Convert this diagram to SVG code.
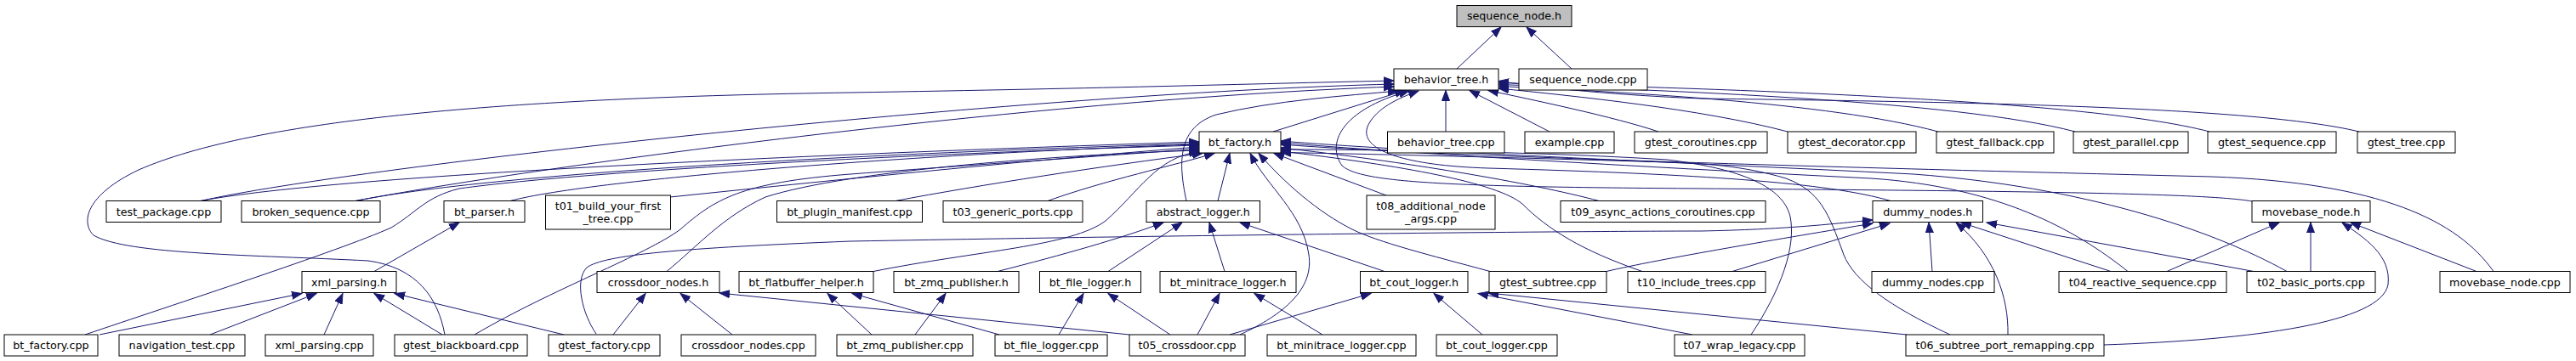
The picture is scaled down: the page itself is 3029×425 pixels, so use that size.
<svg xmlns="http://www.w3.org/2000/svg" width="3029" height="425" viewBox="0 0 3029 425">
<style>
.n rect{fill:#fff;stroke:#000;stroke-width:1}
.n.root rect{fill:#bfbfbf}
.n text{font-family:"DejaVu Sans","Liberation Sans",sans-serif;font-size:12.7px;text-anchor:middle;fill:#000}
#edges path{fill:none;stroke:#191970;stroke-width:1}
</style>
<defs>
<marker id="ah" markerUnits="userSpaceOnUse" markerWidth="14" markerHeight="11" refX="12" refY="5" orient="auto">
<path d="M0,0.5 L12,5 L0,9.5 z" fill="#191970" stroke="#191970" stroke-width="1"/>
</marker>
</defs>
<rect x="0" y="0" width="3029" height="425" fill="#fff"/>
<g id="edges" marker-end="url(#ah)">
<path d="M1713,81 L1765,32"/>
<path d="M1848,81 L1795,32"/>
<path d="M1497,155 L1652,106.5"/>
<path d="M1700,155 L1700,106.5"/>
<path d="M1822,155 L1728,106.5"/>
<path d="M1950,155 C1900,138 1800,117 1750,106.5"/>
<path d="M2102,155 C2000,128 1850,113 1762,104"/>
<path d="M2279,155 C2150,120 1900,108 1762,101.5"/>
<path d="M2440,155 C2300,118 1950,106 1762,99.5"/>
<path d="M2598,155 C2450,116 2000,104 1762,97.5"/>
<path d="M2774,155 C2650,125 2300,120 2000,116 C1900,112 1820,104 1762,95.5"/>
<path d="M236,236.5 C420,195 1200,110 1639,99"/>
<path d="M418,236.5 C620,198 1200,118 1639,102"/>
<path d="M523,394 C515,350 490,315 433,307 C300,300 150,300 110,277 C95,262 100,230 163,200 C300,140 600,115 1000,109 C1300,104 1500,98 1639,95"/>
<path d="M1395,236.5 C1385,190 1385,150 1430,135 C1500,118 1580,113 1644,107"/>
<path d="M2223,236.5 C2150,215 2000,205 1750,198 C1630,194 1595,170 1610,145 C1620,128 1640,117 1668,107"/>
<path d="M2648,237 C2600,228 2400,225 2000,222 C1700,220 1600,215 1578,195 C1560,170 1575,130 1657,107"/>
<path d="M236,236.5 C400,205 1000,180 1410,167"/>
<path d="M418,236.5 C600,200 1100,178 1410,169"/>
<path d="M100,394 C200,360 400,295 460,268 C490,250 500,232 540,222 C700,200 1100,180 1410,171"/>
<path d="M558,394 C650,340 760,300 800,270 C840,235 870,215 1000,205 C1200,190 1350,180 1410,175"/>
<path d="M788,232 C1000,210 1250,185 1410,173"/>
<path d="M600,236.5 C700,210 1100,180 1410,170"/>
<path d="M784,319.5 C820,290 850,255 900,232 C1000,200 1250,182 1410,177"/>
<path d="M1053,236.5 C1150,218 1300,195 1414,180.5"/>
<path d="M1232,236.5 C1300,212 1380,195 1428,180.5"/>
<path d="M1027,319.5 C1150,295 1260,290 1300,260 C1340,225 1360,185 1410,178.5"/>
<path d="M1432,236.5 L1446,180.5"/>
<path d="M1458,394 C1510,370 1545,340 1539,300 C1532,250 1490,220 1470,180.5"/>
<path d="M1752,319.5 C1680,300 1620,285 1590,270 C1550,250 1510,215 1480,180.5"/>
<path d="M1630,230 L1498,180.5"/>
<path d="M1880,236.5 C1800,215 1650,190 1506,174"/>
<path d="M1931,319.5 C1860,295 1820,270 1790,240 C1760,215 1650,195 1506,178"/>
<path d="M2932,319.5 C2890,260 2800,215 2600,208 C2200,198 1700,185 1506,170"/>
<path d="M2502,319.5 C2440,270 2350,220 2200,210 C1900,195 1650,180 1506,168"/>
<path d="M2689,319.5 C2600,270 2450,220 2250,205 C1950,190 1650,178 1506,166"/>
<path d="M2059,394 C2095,340 2112,290 2105,255 C2098,225 2060,200 1960,188 C1800,178 1600,176 1506,176"/>
<path d="M2293,394 C2220,360 2180,330 2168,300 C2150,250 2140,225 2100,210 C2050,195 2000,192 1960,191 C1800,186 1600,181 1506,179.5"/>
<path d="M1173,319.5 C1250,300 1320,280 1368,262"/>
<path d="M1303,319.5 L1390,262"/>
<path d="M1440,319.5 L1422,262"/>
<path d="M1628,319.5 L1458,262"/>
<path d="M440,319.5 L540,262"/>
<path d="M117,394 L355,345.5"/>
<path d="M247,394 L372,345.5"/>
<path d="M381,394 L403,345.5"/>
<path d="M520,394 L440,345.5"/>
<path d="M663,394 L464,345.5"/>
<path d="M721,394 L759,345.5"/>
<path d="M861,394 L800,345.5"/>
<path d="M1328,394 L846,345"/>
<path d="M1025,394 L973,345.5"/>
<path d="M1175,394 L1002,345.5"/>
<path d="M1076,394 L1112,345.5"/>
<path d="M1245,394 L1274,345.5"/>
<path d="M1376,394 L1303,345.5"/>
<path d="M1408,394 L1434,345.5"/>
<path d="M1555,394 L1475,345.5"/>
<path d="M1446,394 L1612,345.5"/>
<path d="M1743,394 L1686,345.5"/>
<path d="M1990,394 L1738,345.5"/>
<path d="M2242,394 L1750,345"/>
<path d="M701,393 C685,370 675,330 690,315 C710,300 800,292 1000,284 C1500,275 1900,272 2000,272 C2100,270 2150,264 2202,259"/>
<path d="M1889,319.5 C1950,305 2100,280 2202,263"/>
<path d="M2037,319.5 L2222,263"/>
<path d="M2272,319.5 L2268,262"/>
<path d="M2482,319.5 L2306,262"/>
<path d="M2361,394 C2362,350 2345,300 2300,262"/>
<path d="M2650,319.5 L2336,262"/>
<path d="M2548,319.5 L2680,262"/>
<path d="M2717,319.5 L2717,262"/>
<path d="M2474,406 C2650,400 2800,380 2808,335 C2812,300 2780,280 2754,262"/>
<path d="M2912,319.5 L2764,262"/>
</g>
<g id="sequence_node_h" class="n root"><rect x="1713" y="6.5" width="135" height="25"/><text x="1780.5" y="23.4">sequence_node.h</text></g>
<g id="behavior_tree_h" class="n"><rect x="1639" y="81" width="123" height="25"/><text x="1700.5" y="98">behavior_tree.h</text></g>
<g id="sequence_node_cpp" class="n"><rect x="1786" y="81" width="151" height="25"/><text x="1861.5" y="98">sequence_node.cpp</text></g>
<g id="bt_factory_h" class="n"><rect x="1410" y="155" width="96" height="25"/><text x="1458" y="172">bt_factory.h</text></g>
<g id="behavior_tree_cpp" class="n"><rect x="1631.5" y="155" width="137.5" height="25"/><text x="1700.25" y="172">behavior_tree.cpp</text></g>
<g id="example_cpp" class="n"><rect x="1793" y="155" width="105" height="25"/><text x="1845.5" y="172">example.cpp</text></g>
<g id="gtest_coroutines_cpp" class="n"><rect x="1922" y="155" width="156" height="25"/><text x="2000" y="172">gtest_coroutines.cpp</text></g>
<g id="gtest_decorator_cpp" class="n"><rect x="2102" y="155" width="151" height="25"/><text x="2177.5" y="172">gtest_decorator.cpp</text></g>
<g id="gtest_fallback_cpp" class="n"><rect x="2277" y="155" width="138" height="25"/><text x="2346" y="172">gtest_fallback.cpp</text></g>
<g id="gtest_parallel_cpp" class="n"><rect x="2438" y="155" width="135" height="25"/><text x="2505.5" y="172">gtest_parallel.cpp</text></g>
<g id="gtest_sequence_cpp" class="n"><rect x="2596" y="155" width="151" height="25"/><text x="2671.5" y="172">gtest_sequence.cpp</text></g>
<g id="gtest_tree_cpp" class="n"><rect x="2772" y="155" width="115" height="25"/><text x="2829.5" y="172">gtest_tree.cpp</text></g>
<g id="test_package_cpp" class="n"><rect x="125" y="236.5" width="135" height="25"/><text x="192.5" y="253.5">test_package.cpp</text></g>
<g id="broken_sequence_cpp" class="n"><rect x="284" y="236.5" width="163" height="25"/><text x="365.5" y="253.5">broken_sequence.cpp</text></g>
<g id="bt_parser_h" class="n"><rect x="522" y="236.5" width="95" height="25"/><text x="569.5" y="253.5">bt_parser.h</text></g>
<g id="t01_build_your_first_tree_cpp" class="n"><rect x="641.5" y="230" width="147" height="40"/><text x="715" y="246.5">t01_build_your_first</text><text x="715" y="261.5">_tree.cpp</text></g>
<g id="bt_plugin_manifest_cpp" class="n"><rect x="913.5" y="236.5" width="171" height="25"/><text x="999" y="253.5">bt_plugin_manifest.cpp</text></g>
<g id="t03_generic_ports_cpp" class="n"><rect x="1109" y="236.5" width="164" height="25"/><text x="1191" y="253.5">t03_generic_ports.cpp</text></g>
<g id="abstract_logger_h" class="n"><rect x="1348" y="236.5" width="133.5" height="25"/><text x="1414.75" y="253.5">abstract_logger.h</text></g>
<g id="t08_additional_node_args_cpp" class="n"><rect x="1607" y="230" width="151" height="40"/><text x="1682.5" y="246.5">t08_additional_node</text><text x="1682.5" y="261.5">_args.cpp</text></g>
<g id="t09_async_actions_coroutines_cpp" class="n"><rect x="1835" y="236.5" width="241" height="25"/><text x="1955.5" y="253.5">t09_async_actions_coroutines.cpp</text></g>
<g id="dummy_nodes_h" class="n"><rect x="2202" y="236.5" width="129.5" height="25"/><text x="2266.75" y="253.5">dummy_nodes.h</text></g>
<g id="movebase_node_h" class="n"><rect x="2648" y="236.5" width="139" height="25"/><text x="2717.5" y="253.5">movebase_node.h</text></g>
<g id="xml_parsing_h" class="n"><rect x="355" y="319.5" width="111" height="25"/><text x="410.5" y="336.5">xml_parsing.h</text></g>
<g id="crossdoor_nodes_h" class="n"><rect x="702" y="319.5" width="144" height="25"/><text x="774" y="336.5">crossdoor_nodes.h</text></g>
<g id="bt_flatbuffer_helper_h" class="n"><rect x="869" y="319.5" width="158" height="25"/><text x="948" y="336.5">bt_flatbuffer_helper.h</text></g>
<g id="bt_zmq_publisher_h" class="n"><rect x="1051" y="319.5" width="147" height="25"/><text x="1124.5" y="336.5">bt_zmq_publisher.h</text></g>
<g id="bt_file_logger_h" class="n"><rect x="1222.5" y="319.5" width="119" height="25"/><text x="1282" y="336.5">bt_file_logger.h</text></g>
<g id="bt_minitrace_logger_h" class="n"><rect x="1364" y="319.5" width="160" height="25"/><text x="1444" y="336.5">bt_minitrace_logger.h</text></g>
<g id="bt_cout_logger_h" class="n"><rect x="1599.5" y="319.5" width="126.5" height="25"/><text x="1662.75" y="336.5">bt_cout_logger.h</text></g>
<g id="gtest_subtree_cpp" class="n"><rect x="1751" y="319.5" width="138" height="25"/><text x="1820" y="336.5">gtest_subtree.cpp</text></g>
<g id="t10_include_trees_cpp" class="n"><rect x="1914" y="319.5" width="162" height="25"/><text x="1995" y="336.5">t10_include_trees.cpp</text></g>
<g id="dummy_nodes_cpp" class="n"><rect x="2201" y="319.5" width="144" height="25"/><text x="2273" y="336.5">dummy_nodes.cpp</text></g>
<g id="t04_reactive_sequence_cpp" class="n"><rect x="2421" y="319.5" width="197" height="25"/><text x="2519.5" y="336.5">t04_reactive_sequence.cpp</text></g>
<g id="t02_basic_ports_cpp" class="n"><rect x="2642" y="319.5" width="151" height="25"/><text x="2717.5" y="336.5">t02_basic_ports.cpp</text></g>
<g id="movebase_node_cpp" class="n"><rect x="2869" y="319.5" width="153" height="25"/><text x="2945.5" y="336.5">movebase_node.cpp</text></g>
<g id="bt_factory_cpp" class="n"><rect x="5" y="394" width="110" height="25"/><text x="60" y="411">bt_factory.cpp</text></g>
<g id="navigation_test_cpp" class="n"><rect x="140" y="394" width="148" height="25"/><text x="214" y="411">navigation_test.cpp</text></g>
<g id="xml_parsing_cpp" class="n"><rect x="312" y="394" width="127" height="25"/><text x="375.5" y="411">xml_parsing.cpp</text></g>
<g id="gtest_blackboard_cpp" class="n"><rect x="464" y="394" width="156" height="25"/><text x="542" y="411">gtest_blackboard.cpp</text></g>
<g id="gtest_factory_cpp" class="n"><rect x="645" y="394" width="131" height="25"/><text x="710.5" y="411">gtest_factory.cpp</text></g>
<g id="crossdoor_nodes_cpp" class="n"><rect x="801" y="394" width="158" height="25"/><text x="880" y="411">crossdoor_nodes.cpp</text></g>
<g id="bt_zmq_publisher_cpp" class="n"><rect x="984" y="394" width="160" height="25"/><text x="1064" y="411">bt_zmq_publisher.cpp</text></g>
<g id="bt_file_logger_cpp" class="n"><rect x="1170" y="394" width="132" height="25"/><text x="1236" y="411">bt_file_logger.cpp</text></g>
<g id="t05_crossdoor_cpp" class="n"><rect x="1328" y="394" width="136" height="25"/><text x="1396" y="411">t05_crossdoor.cpp</text></g>
<g id="bt_minitrace_logger_cpp" class="n"><rect x="1490" y="394" width="175" height="25"/><text x="1577.5" y="411">bt_minitrace_logger.cpp</text></g>
<g id="bt_cout_logger_cpp" class="n"><rect x="1689" y="394" width="142" height="25"/><text x="1760" y="411">bt_cout_logger.cpp</text></g>
<g id="t07_wrap_legacy_cpp" class="n"><rect x="1969" y="394" width="153" height="25"/><text x="2045.5" y="411">t07_wrap_legacy.cpp</text></g>
<g id="t06_subtree_port_remapping_cpp" class="n"><rect x="2241" y="394" width="233" height="25"/><text x="2357.5" y="411">t06_subtree_port_remapping.cpp</text></g>
</svg>
